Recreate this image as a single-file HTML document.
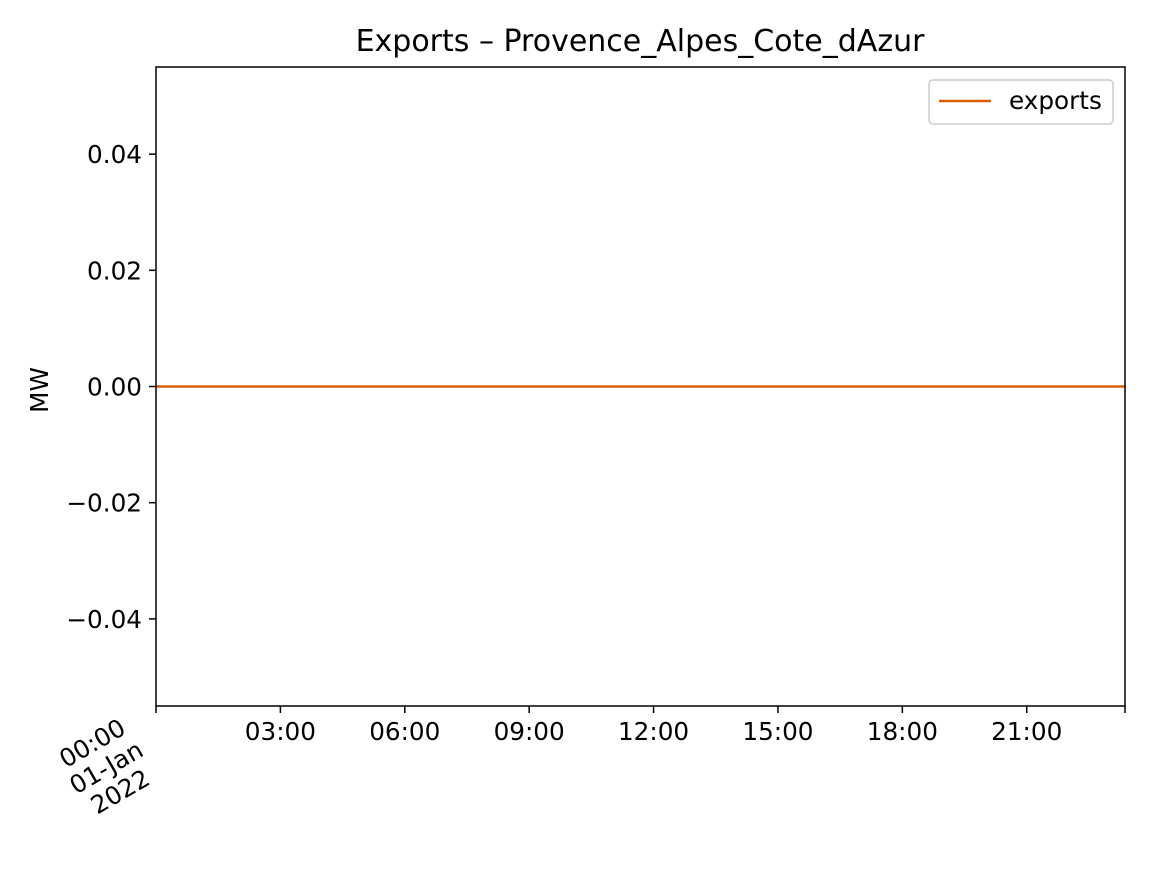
<!DOCTYPE html>
<html><head><meta charset="utf-8"><style>
body{margin:0;background:#fff;}
svg text{font-family:"DejaVu Sans","Liberation Sans",sans-serif;fill:#000;}
</style></head><body>
<svg id="chart" width="1152" height="864" viewBox="0 0 1152 864" xmlns="http://www.w3.org/2000/svg">
<rect width="1152" height="864" fill="#fff"/>
<text x="640" y="51" font-size="30" text-anchor="middle">Exports – Provence_Alpes_Cote_dAzur</text>
<text x="48" y="390" font-size="24.7" text-anchor="middle" transform="rotate(-90 48 390)">MW</text>
<g id="yticks"></g><g id="xticks"></g><g id="series"></g>
<rect x="156" y="67" width="969" height="639" fill="none" stroke="#000" stroke-width="1.5"/>
<g>
<rect x="929" y="80" width="184" height="44" rx="4" fill="#fff" stroke="#ccc" stroke-width="1.5"/>
<line x1="939" y1="101" x2="991" y2="101" stroke="#d95f02" stroke-width="2.5"/>
<text x="1009" y="109" font-size="24.7">exports</text>
</g>
</svg>
<script>
const yTicks=[0.04,0.02,0.00,-0.02,-0.04];
const yTickLabels=["0.04","0.02","0.00","−0.02","−0.04"];
const xTickHours=[3,6,9,12,15,18,21];
const xTickLabels=["03:00","06:00","09:00","12:00","15:00","18:00","21:00"];
const seriesHours=[0,1,2,3,4,5,6,7,8,9,10,11,12,13,14,15,16,17,18,19,20,21,22,23,23.37];
const seriesValues=[0,0,0,0,0,0,0,0,0,0,0,0,0,0,0,0,0,0,0,0,0,0,0,0,0];
const L=156,R=1125,T=67,B=706,ymin=-0.055,ymax=0.055,xmin=0,xmax=23.37;
const ns="http://www.w3.org/2000/svg";
const ys=v=>B-(v-ymin)/(ymax-ymin)*(B-T);
const xs=h=>L+(h-xmin)/(xmax-xmin)*(R-L);
function mk(t,a,p){const e=document.createElementNS(ns,t);for(const k in a)e.setAttribute(k,a[k]);p.appendChild(e);return e;}
const yg=document.getElementById('yticks');
yTicks.forEach((v,i)=>{const y=ys(v);
const l=mk('line',{x1:L-7,x2:L,y1:y,y2:y,stroke:'#000','stroke-width':1.5},yg);


const t=mk('text',{x:L-14,y:y+9,'font-size':24.7,'text-anchor':'end'},yg);t.textContent=yTickLabels[i];

});
const xg=document.getElementById('xticks');
[0].concat(xTickHours).concat([xmax]).forEach(h=>{const x=xs(h);
const l=mk('line',{x1:x,x2:x,y1:B,y2:B+7,stroke:'#000','stroke-width':1.5},xg);

});
xTickHours.forEach((h,i)=>{const t=mk('text',{x:xs(h),y:B+34,'font-size':24.7,'text-anchor':'middle'},xg);t.textContent=xTickLabels[i];

});
const g0=mk('g',{transform:'translate(106,767) rotate(-30)'},xg);


["00:00","01-Jan","2022"].forEach((s,i)=>{const t=mk('text',{x:0,y:(i-1)*28+9,'font-size':24.7,'text-anchor':'middle'},g0);t.textContent=s;});
const sg=document.getElementById('series');
const p=mk('polyline',{points:seriesHours.map((h,i)=>xs(h)+','+ys(seriesValues[i])).join(' '),fill:'none',stroke:'#d95f02','stroke-width':2.5},sg);


</script>
</body></html>
